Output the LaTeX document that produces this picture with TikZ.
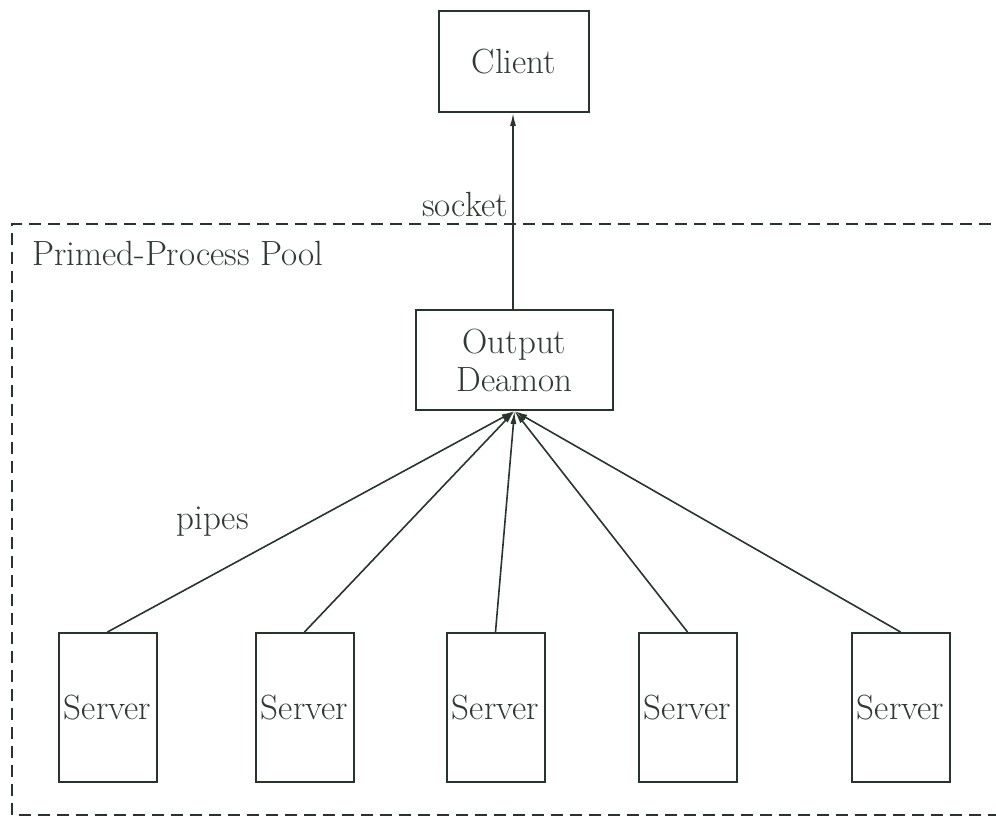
\documentclass[tikz,border=0pt]{standalone}
\usetikzlibrary{arrows.meta}
\definecolor{ink}{RGB}{42,52,47}
\definecolor{txt}{RGB}{50,56,52}
\begin{document}
\begin{tikzpicture}[x=1pt,y=-1pt,
  font=\fontsize{35}{38}\selectfont,
  box/.style={draw=ink,line width=2pt,text=txt,inner sep=0pt,align=center},
  srv/.style={box,minimum width=98pt,minimum height=149pt},
  conn/.style={draw=ink,line width=1.6pt,-{Latex[length=13pt,width=6pt]}},
  lbl/.style={text=txt,inner sep=0pt,anchor=base}]
  \useasboundingbox (0,0) rectangle (996,818);
  \clip (0,0) rectangle (996,818);
  \fill[white] (0,0) rectangle (996,818);

  % pool boundary (open towards the right edge)
  \draw[ink,line width=2pt,dash pattern=on 12pt off 7pt]
    (1010,224) -- (12,224) -- (12,815) -- (1010,815);
  \node[lbl,anchor=base west] (pool) at (32,266) {Primed-Process Pool};

  % processes
  \node[box,minimum width=150pt,minimum height=101pt] (client) at (514,61.5) {Client};
  \node[box,minimum width=197pt,minimum height=100pt] (od) at (514.5,360) {Output\\Deamon};
  \node[srv] (s1) at (107.5,707.5) {Server};
  \node[srv] (s2) at (304.5,707.5) {Server};
  \node[srv] (s3) at (495.5,707.5) {Server};
  \node[srv] (s4) at (687.5,707.5) {Server};
  \node[srv] (s5) at (900.5,707.5) {Server};

  % connections
  \coordinate (odtop) at (513,310);
  \draw[conn] (odtop) -- (client.south -| odtop);
  \foreach \s in {s1,s2,s3,s4,s5}
    \draw[conn] (\s.north) -- (od.south);

  \node[lbl] (socket) at (465,217) {socket};
  \node[lbl] (pipes) at (212.5,529) {pipes};
\end{tikzpicture}
\end{document}
